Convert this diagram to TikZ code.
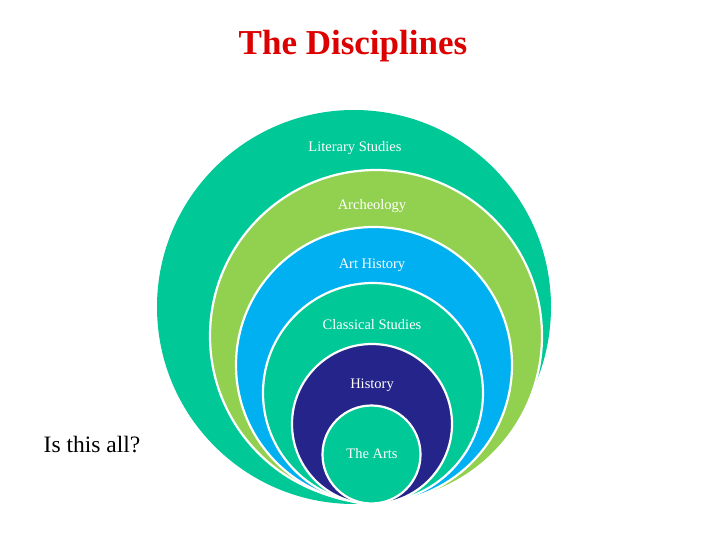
\documentclass[tikz,border=0pt]{standalone}
\usepackage{fontspec}
\setmainfont{Liberation Serif}
\definecolor{cteal}{RGB}{0,200,150}
\definecolor{cgreen}{RGB}{146,208,80}
\definecolor{cblue}{RGB}{0,176,240}
\definecolor{cnavy}{RGB}{36,36,138}
\definecolor{cred}{RGB}{220,0,0}
\tikzset{
  ring/.style={draw=white, line width=2.2pt},
  lbl/.style={text=white, font=\fontsize{14.5}{16}\selectfont, inner sep=0pt},
}
\begin{document}
\begin{tikzpicture}[x=1pt,y=-1pt]
\useasboundingbox (0,0) rectangle (720,540);
\fill[white] (0,0) rectangle (720,540);
\fill[cteal] (354,307) circle (197);
\path[ring, fill=cgreen] (376,336) circle (166);
\path[ring, fill=cblue] (374,365) circle (138);
\path[ring, fill=cteal] (373,393) circle (110);
\path[ring, fill=cnavy] (372,424) circle (80);
\path[ring, fill=cteal] (371.5,454.5) circle (49);
\node[lbl] (l1) at (355,148) {Literary Studies};
\node[lbl] (l2) at (372,206) {Archeology};
\node[lbl] (l3) at (372,265) {Art History};
\node[lbl] (l4) at (372,325) {Classical Studies};
\node[lbl] (l5) at (372,385) {History};
\node[lbl] (l6) at (372,454) {The Arts};
\node[text=cred, font=\fontsize{35}{40}\selectfont\bfseries, inner sep=0pt] (title) at (353,46) {The Disciplines};
\node[font=\fontsize{23.5}{26}\selectfont, inner sep=0pt] (q) at (92,445) {Is this all?};
\end{tikzpicture}
\end{document}
